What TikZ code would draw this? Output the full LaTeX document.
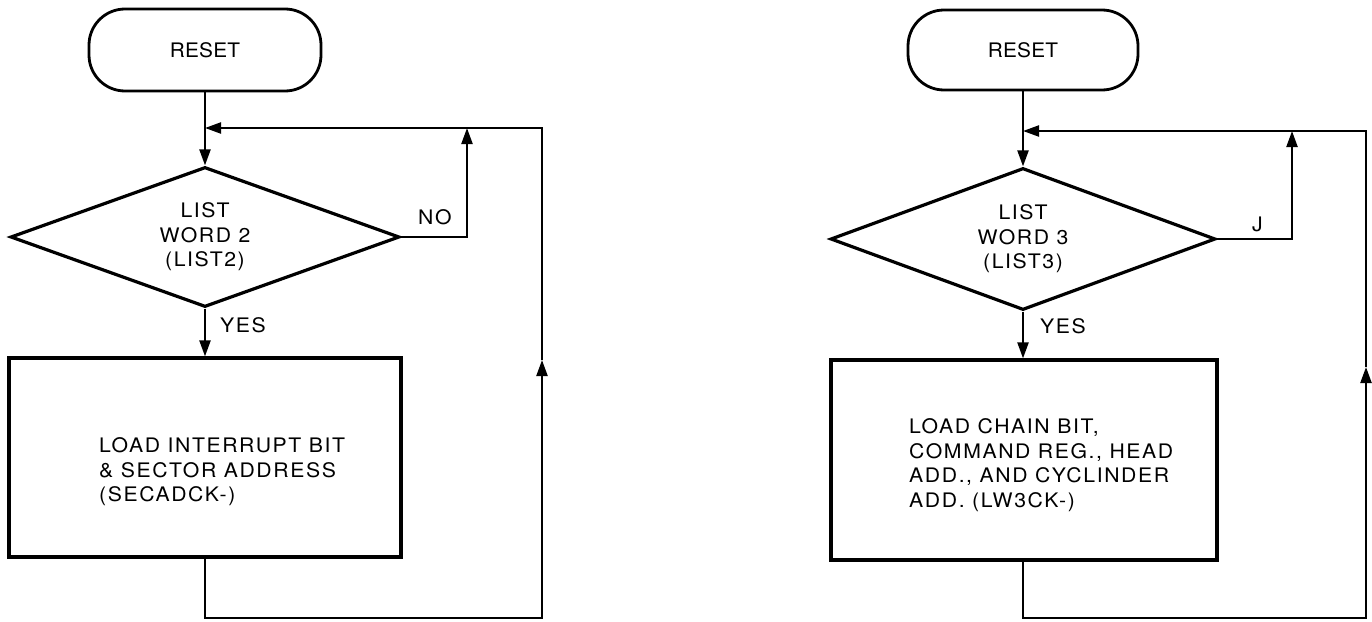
\documentclass[tikz,border=0pt]{standalone}
\usepackage{fontspec}
\setmainfont{TeX Gyre Heros}[LetterSpace=8,FakeStretch=1.06]
\newfontfamily\resetfont{TeX Gyre Heros}[LetterSpace=1,FakeStretch=1.04]
\usetikzlibrary{arrows.meta,shapes.geometric}
\begin{document}
\begin{tikzpicture}[x=1pt,y=-1pt,
  every node/.style={font=\fontsize{20pt}{24.6pt}\selectfont},
  term/.style={draw, line width=2.8pt, rounded corners=36pt, inner sep=0pt,
    font=\fontsize{20pt}{24.6pt}\resetfont},
  dec/.style={draw, diamond, line width=3.2pt, inner sep=0pt, shape aspect=2.78, align=center},
  procbox/.style={draw, rectangle, line width=3.2pt, inner sep=0pt},
  lbl/.style={inner sep=0pt},
  conn/.style={line width=2.2pt},
  arr/.style={conn, -{Triangle[length=16pt,width=11pt]}}
]
\useasboundingbox (0,0) rectangle (1372,621);

% ---------- left chart ----------
\node[term, minimum width=232pt, minimum height=82pt] (reset1) at (205,50) {RESET};
\node[dec, minimum width=389pt, minimum height=140pt] (dec1) at (205,237) {LIST\\WORD 2\\(LIST2)};
\node[procbox, minimum width=392pt, minimum height=199pt] (box1) at (205,457.5) {};
\node[lbl, anchor=north west, align=left] (txt1) at (99,437.5)
  {LOAD INTERRUPT BIT\\\& SECTOR ADDRESS\\(SECADCK-)};
\node[lbl, anchor=base west] (no1) at (418,224) {NO};
\node[lbl, anchor=base west] (yes1) at (220,332) {YES};

\coordinate (j1) at (205,128);
\coordinate (n1) at (467,128);
\coordinate (b1) at (205,618);
\coordinate (br1) at (542,618);
\coordinate (m1) at (542,360);
\coordinate (tr1) at (542,128);

\draw[arr] (reset1.south) -- (dec1.north);
\draw[arr] (dec1.south) -- (box1.north);
\draw[arr] (dec1.east) -| (n1);
\draw[arr] (box1.south) -- (b1) -- (br1) -- (m1);
\draw[arr] (m1) -- (tr1) -- (j1);

% ---------- right chart ----------
\node[term, minimum width=230pt, minimum height=80pt] (reset2) at (1023,50) {RESET};
\node[dec, minimum width=385pt, minimum height=142pt] (dec2) at (1023,239) {LIST\\WORD 3\\(LIST3)};
\node[procbox, minimum width=386pt, minimum height=200pt] (box2) at (1024,460) {};
\node[lbl, anchor=north west, align=left] (txt2) at (909,418.5)
  {LOAD CHAIN BIT,\\COMMAND REG., HEAD\\ADD., AND CYCLINDER\\ADD. (LW3CK-)};
\node[lbl, anchor=base west] (no2) at (1252,231) {J};
\node[lbl, anchor=base west] (yes2) at (1040,333) {YES};

\coordinate (j2) at (1023,131);
\coordinate (n2) at (1292,131);
\coordinate (b2) at (1023,618);
\coordinate (br2) at (1366,618);
\coordinate (m2) at (1366,367);
\coordinate (tr2) at (1366,131);

\draw[arr] (reset2.south) -- (dec2.north);
\draw[arr] (dec2.south) -- (box2.north -| dec2.south);
\draw[arr] (dec2.east) -| (n2);
\draw[arr] (box2.south -| b2) -- (b2) -- (br2) -- (m2);
\draw[arr] (m2) -- (tr2) -- (j2);
\end{tikzpicture}
\end{document}
